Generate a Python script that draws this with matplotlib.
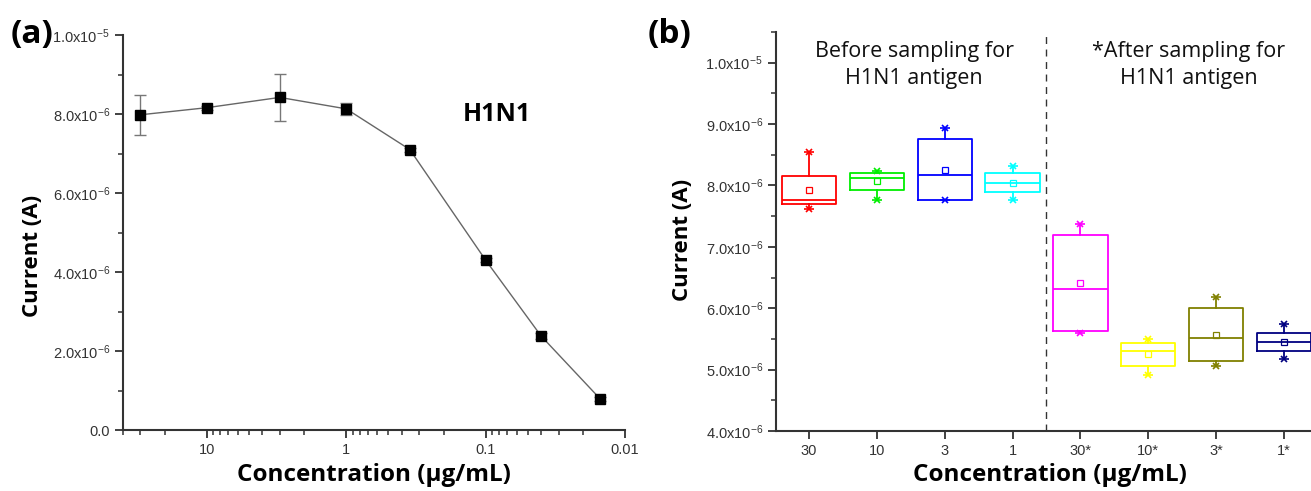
import numpy as np
import matplotlib
matplotlib.use("Agg")
import matplotlib.pyplot as plt
from matplotlib.ticker import FuncFormatter, MultipleLocator, LogLocator, NullFormatter

plt.rcParams['font.family'] = ['Open Sans', 'DejaVu Sans']
plt.rcParams['mathtext.fontset'] = 'custom'
plt.rcParams['mathtext.rm'] = 'Liberation Sans'
plt.rcParams['mathtext.default'] = 'regular'

# (a) dose response
conc_a = [30, 10, 3, 1, 0.35, 0.1, 0.04, 0.015]
current_a = [7.98e-6, 8.16e-6, 8.42e-6, 8.13e-6, 7.10e-6, 4.30e-6, 2.38e-6, 0.78e-6]
err_a = [0.5e-6, 0.05e-6, 0.6e-6, 0.15e-6, 0.05e-6, 0.05e-6, 0.08e-6, 0.05e-6]

# (b) box charts
categories = ['30', '10', '3', '1', '30*', '10*', '3*', '1*']
box_colors = ['#FF0000', '#00EE00', '#0000FF', '#00FFFF',
              '#FF00FF', '#FFFF00', '#808000', '#000080']
q1 = [7.69, 7.92, 7.77, 7.89, 5.63, 5.06, 5.14, 5.30]
med = [7.77, 8.12, 8.17, 8.04, 6.32, 5.30, 5.51, 5.45]
q3 = [8.16, 8.20, 8.75, 8.20, 7.20, 5.43, 6.00, 5.59]
mean = [7.93, 8.07, 8.26, 8.04, 6.41, 5.25, 5.56, 5.45]
wlo = [7.61, 7.77, 7.77, 7.77, 5.59, 4.91, 5.06, 5.17]
whi = [8.54, 8.23, 8.94, 8.31, 7.38, 5.50, 6.18, 5.74]


def sci_fmt(v, pos):
    if abs(v) < 1e-12:
        return '0.0'
    e = int(np.floor(np.log10(abs(v)) + 1e-9))
    m = v / 10 ** e
    return '%.1fx10$^{%d}$' % (m, e)


tick_col = '#333333'
fig = plt.figure(figsize=(13.11, 4.91), dpi=100)

# ---------- panel (a) ----------
ax1 = fig.add_axes([123 / 1311, 61 / 491, 502 / 1311, 395 / 491])
ax1.errorbar(conc_a, current_a, yerr=err_a, color='#666666', lw=1,
             marker='s', ms=7, mfc='black', mec='black',
             ecolor='#777777', elinewidth=1, capsize=4, capthick=1)
ax1.set_xscale('log')
ax1.set_xlim(40, 0.01)
ax1.set_ylim(0, 1e-5)
ax1.xaxis.set_major_locator(LogLocator(base=10, numticks=10))
ax1.xaxis.set_minor_locator(LogLocator(base=10, subs=np.arange(2, 10), numticks=10))
ax1.xaxis.set_major_formatter(FuncFormatter(lambda v, p: '%g' % v))
ax1.xaxis.set_minor_formatter(NullFormatter())
ax1.yaxis.set_major_locator(MultipleLocator(2e-6))
ax1.yaxis.set_minor_locator(MultipleLocator(1e-6))
ax1.yaxis.set_major_formatter(FuncFormatter(sci_fmt))
ax1.text((497 - 123) / 502, 8.0e-6, 'H1N1', fontsize=18, fontweight='bold',
         ha='center', va='center', transform=ax1.get_yaxis_transform())

# ---------- panel (b) ----------
ax2 = fig.add_axes([776 / 1311, 60 / 491, 542 / 1311, 399 / 491])
stats = []
for i in range(len(categories)):
    stats.append(dict(q1=q1[i] * 1e-6, med=med[i] * 1e-6, q3=q3[i] * 1e-6,
                      mean=mean[i] * 1e-6, whislo=wlo[i] * 1e-6,
                      whishi=whi[i] * 1e-6, fliers=[]))
pos = np.arange(len(categories))
bp = ax2.bxp(stats, positions=pos, widths=0.8, showmeans=True,
             showfliers=False, capwidths=0.0, patch_artist=False)
for i, c in enumerate(box_colors):
    bp['boxes'][i].set(color=c, lw=1.3)
    bp['medians'][i].set(color=c, lw=1.3)
    for w in bp['whiskers'][2 * i:2 * i + 2]:
        w.set(color=c, lw=1.3)
    for cp in bp['caps'][2 * i:2 * i + 2]:
        cp.set(color=c)
    bp['means'][i].set(marker='s', mfc='none', mec=c, ms=4, mew=0.9)
    ax2.plot([pos[i], pos[i]], [wlo[i] * 1e-6, whi[i] * 1e-6], ls='none',
             marker='x', ms=5, mew=1.2, color=c)
    ax2.plot([pos[i], pos[i]], [wlo[i] * 1e-6, whi[i] * 1e-6], ls='none',
             marker='_', ms=7, mew=1.2, color=c)

ax2.axvline(3.5, color='#333333', lw=1, ls=(0, (5, 4)))
ax2.set_xlim(-0.485, 7.5)
ax2.set_ylim(4e-6, 1.05e-5)
ax2.set_xticks(pos)
ax2.set_xticklabels(categories)
ax2.yaxis.set_major_locator(MultipleLocator(1e-6))
ax2.yaxis.set_minor_locator(MultipleLocator(0.5e-6))
ax2.yaxis.set_major_formatter(FuncFormatter(sci_fmt))
ax2.text(1.55, 0.977, 'Before sampling for\nH1N1 antigen', fontsize=15.5,
         ha='center', va='top', linespacing=1.38, color='#111111',
         transform=ax2.get_xaxis_transform())
ax2.text(5.6, 0.977, '*After sampling for\nH1N1 antigen', fontsize=15.5,
         ha='center', va='top', linespacing=1.38, color='#111111',
         transform=ax2.get_xaxis_transform())

for ax in (ax1, ax2):
    for s in ('top', 'right'):
        ax.spines[s].set_visible(False)
    for s in ('left', 'bottom'):
        ax.spines[s].set_linewidth(1.5)
        ax.spines[s].set_color(tick_col)
    ax.tick_params(which='major', direction='out', length=6, width=1.3,
                   color=tick_col, labelcolor=tick_col, labelsize=10.5)
    ax.tick_params(which='minor', direction='out', length=3.5, width=1.1,
                   color=tick_col)
    for lab in ax.get_xticklabels() + ax.get_yticklabels():
        lab.set_family('Liberation Sans')
    ax.set_xlabel('Concentration (\u03bcg/mL)', fontsize=17.5, fontweight='bold')
    ax.set_ylabel('Current (A)', fontsize=16, fontweight='bold')

ax1.xaxis.set_label_coords(0.5, -0.083)
ax2.xaxis.set_label_coords((1050 - 776) / 542, -0.081)
ax1.yaxis.set_label_coords(-0.16, 0.44)
ax2.yaxis.set_label_coords(-0.153, 0.48)

fig.text(32 / 1311, 1 - 34 / 491, '(a)', fontsize=24, fontweight='bold',
         ha='center', va='center')
fig.text(670 / 1311, 1 - 34 / 491, '(b)', fontsize=24, fontweight='bold',
         ha='center', va='center')

fig.savefig('out.png', dpi=100)
